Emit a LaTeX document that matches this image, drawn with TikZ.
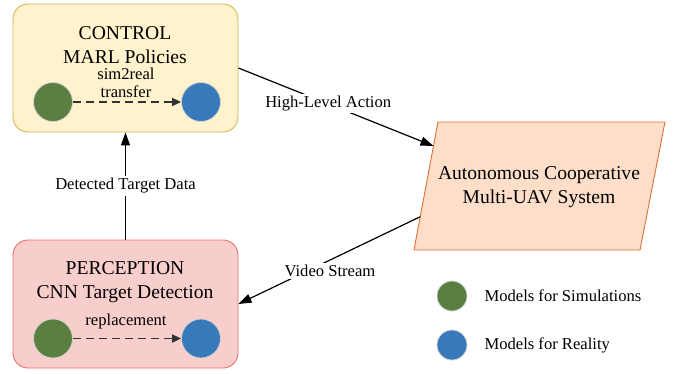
\documentclass[tikz,border=0pt]{standalone}
\usepackage{fontspec}
\setmainfont{Liberation Serif}
\usetikzlibrary{arrows.meta,calc}
\definecolor{ctrlfill}{HTML}{FFF2CC}
\definecolor{ctrldraw}{HTML}{D6B656}
\definecolor{percfill}{HTML}{F8CECC}
\definecolor{percdraw}{HTML}{E8706C}
\definecolor{uavfill}{HTML}{FDDEC8}
\definecolor{uavdraw}{HTML}{E07038}
\definecolor{simgreen}{HTML}{5A7F40}
\definecolor{realblue}{HTML}{3779B9}
\tikzset{
  panel/.style={rounded corners=15pt, line width=0.9pt, minimum width=225pt, minimum height=128pt},
  titletext/.style={font=\rmfamily\fontsize{19.6}{24}\selectfont, align=center},
  lbl/.style={font=\rmfamily\fontsize{16.6}{18}\selectfont, align=center},
  dot/.style={circle, draw=gray!35, line width=0.8pt, minimum size=39pt, inner sep=0pt},
  ldot/.style={circle, draw=gray!35, line width=0.8pt, minimum size=30pt, inner sep=0pt},
  conn/.style={line width=1.2pt, -{Triangle[length=13pt,width=9pt]}},
  dashconn/.style={line width=1.8pt, draw=black!80, dash pattern=on 8pt off 5pt, -{Triangle[length=9pt,width=8pt]}},
  bg/.style={fill=white, inner sep=2pt}
}
\begin{document}
\begin{tikzpicture}[x=1pt,y=-1pt]
\useasboundingbox (0,0) rectangle (678,373);
% boxes
\node[panel, fill=ctrlfill, draw=ctrldraw] (ctrl) at (125.5,68) {};
\node[panel, fill=percfill, draw=percdraw] (perc) at (125.5,304) {};
% titles
\node[titletext] (ctrlt) at (125,45) {CONTROL\\MARL Policies};
\node[titletext] (perct) at (125,282) {PERCEPTION\\CNN Target Detection};
% dots in boxes
\node[dot, fill=simgreen] (cg) at (53,102) {};
\node[dot, fill=realblue] (cb) at (201,102) {};
\node[dot, fill=simgreen] (pg) at (53,338.5) {};
\node[dot, fill=realblue] (pb) at (201,338.5) {};
\draw[dashconn] (cg) -- (cb);
\draw[dashconn] (pg) -- (pb);
\node[lbl] (s2r) at (126,82.5) {sim2real\\transfer};
\node[lbl] (repl) at (126,322) {replacement};
% parallelogram
\coordinate (pTL) at (438,122);
\coordinate (pTR) at (665,122);
\coordinate (pBR) at (640,250);
\coordinate (pBL) at (414,250);
\draw[fill=uavfill, draw=uavdraw, line width=0.9pt] (pTL) -- (pTR) -- (pBR) -- (pBL) -- cycle;
\node[titletext] (uav) at (539,187) {Autonomous Cooperative\\Multi-UAV System};
\coordinate (uavIn) at ($(pTL)!0.1875!(pBL)$);
\coordinate (uavOut) at ($(pTL)!0.74!(pBL)$);
% connectors
\draw[conn] (perc.north) -- node[bg, lbl] (dtd) {Detected Target Data} (ctrl.south);
\draw[conn] (ctrl.east) -- node[bg, lbl, pos=0.46] (hla) {High-Level Action} (uavIn);
\draw[conn] (uavOut) -- (perc.east);
\node[bg, lbl] (vs) at (330,271) {Video Stream};
% legend
\node[ldot, fill=simgreen] (lg) at (452,296) {};
\node[ldot, fill=realblue] (lb) at (452,345) {};
\node[lbl, anchor=west] (lgt) at (481,296) {Models for Simulations};
\node[lbl, anchor=west] (lbt) at (481,345) {Models for Reality};
\end{tikzpicture}
\end{document}
